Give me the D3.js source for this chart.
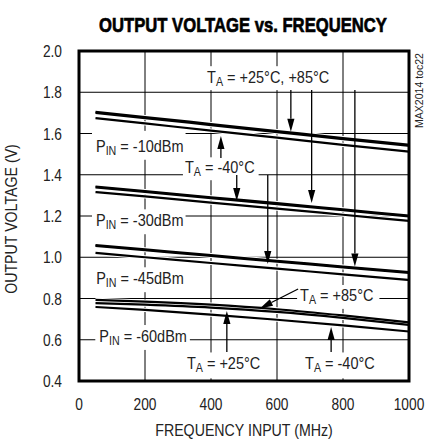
<!DOCTYPE html>
<html><head><meta charset="utf-8">
<script src="https://cdn.jsdelivr.net/npm/d3@7"></script>
<style>
html,body{margin:0;padding:0;background:#fff;}
svg text{font-family:"Liberation Sans",Arial,sans-serif;fill:#222;}
</style></head>
<body>
<svg id="c" width="426" height="444"></svg>
<script>
// ---- data ----
const freqs = [50, 200, 400, 600, 800, 1000]; // MHz
const xTicks = [0, 200, 400, 600, 800, 1000];
const yTicks = [0.4, 0.6, 0.8, 1.0, 1.2, 1.4, 1.6, 1.8, 2.0];
const yTickLabels = ["0.4","0.6","0.8","1.0","1.2","1.4","1.6","1.8","2.0"];

const pin10_p85 = [1.705, 1.680, 1.646, 1.612, 1.578, 1.545];
const pin10_p25 = [1.700, 1.675, 1.641, 1.607, 1.573, 1.540];
const pin10_m40 = [1.675, 1.649, 1.614, 1.580, 1.545, 1.512];
const pin30_p85 = [1.343, 1.321, 1.291, 1.262, 1.232, 1.202];
const pin30_p25 = [1.339, 1.317, 1.287, 1.258, 1.228, 1.198];
const pin30_m40 = [1.316, 1.295, 1.265, 1.236, 1.206, 1.176];
const pin45_p85 = [1.059, 1.038, 1.010, 0.983, 0.955, 0.928];
const pin45_p25 = [1.055, 1.034, 1.006, 0.979, 0.951, 0.924];
const pin45_m40 = [1.021, 1.000, 0.972, 0.945, 0.917, 0.890];
const pin60_p85 = [0.793, 0.785, 0.770, 0.748, 0.718, 0.684];
const pin60_p25 = [0.778, 0.770, 0.756, 0.735, 0.706, 0.672];
const pin60_m40 = [0.759, 0.745, 0.722, 0.697, 0.670, 0.640];

const seriesList = [pin10_p85, pin10_p25, pin10_m40, pin30_p85, pin30_p25, pin30_m40,
                    pin45_p85, pin45_p25, pin45_m40, pin60_p85, pin60_p25, pin60_m40];

// annotation texts: [main, subscript, rest], position in data units (baseline), box padding [t,r,b,l]
const labels = [
  {m:"T", s:"A", r:" = +25°C, +85°C", x:388, y:1.845, pad:[4,4,2,4]},
  {m:"T", s:"A", r:" = -40°C",        x:321, y:1.408, pad:[3,4,2,2]},
  {m:"P", s:"IN", r:" = -10dBm",      x:51.5, y:1.512, pad:[8,2,3,4]},
  {m:"P", s:"IN", r:" = -30dBm",      x:51.5, y:1.151, pad:[4,2,3,4]},
  {m:"P", s:"IN", r:" = -45dBm",      x:52, y:0.870, pad:[4,2,3,4]},
  {m:"P", s:"IN", r:" = -60dBm",      x:61.5, y:0.590, pad:[4,3,3,4]},
  {m:"T", s:"A", r:" = +85°C",        x:670, y:0.789, pad:[3,6,3,3]},
  {m:"T", s:"A", r:" = +25°C",        x:327, y:0.457, pad:[4,4,4,4]},
  {m:"T", s:"A", r:" = -40°C",        x:685, y:0.457, pad:[4,4,4,4]}
];
// arrows: from (x1,y1) to tip (x2,y2), data units
const arrows = [
  {x1:642, y1:1.811, x2:642, y2:1.609},
  {x1:705, y1:1.811, x2:705, y2:1.263},
  {x1:836, y1:1.811, x2:836, y2:0.955},
  {x1:430, y1:1.481, x2:430, y2:1.588},
  {x1:478, y1:1.399, x2:478, y2:1.273},
  {x1:572, y1:1.399, x2:572, y2:0.967},
  {x1:664, y1:0.846, x2:548, y2:0.752},
  {x1:448, y1:0.541, x2:448, y2:0.739},
  {x1:764, y1:0.541, x2:764, y2:0.662}
];

// ---- layout ----
const L = 79, R = 409, T = 51, B = 381;
const SX = 0.86; // horizontal condensing of the narrow typeface
const svg = d3.select("#c");
const x = d3.scaleLinear().domain([0, 1000]).range([L, R]);
const y = d3.scaleLinear().domain([0.4, 2.0]).range([B, T]);

function ntext(parent, px, py, size, anchor, str, rot, sx) {
  const t = parent.append("text")
    .attr("transform", `translate(${px},${py})${rot ? " rotate(" + rot + ")" : ""} scale(${sx || SX},1)`)
    .attr("font-size", size).attr("text-anchor", anchor);
  if (str !== undefined) t.text(str);
  return t;
}

// title
const title = svg.append("text").attr("font-size", 21).attr("font-weight", "bold")
  .attr("text-anchor", "middle").style("fill", "#000")
  .attr("stroke", "#000").attr("stroke-width", 0.7)
  .text("OUTPUT VOLTAGE vs. FREQUENCY");
const tw = title.node().getComputedTextLength();
title.attr("transform", `translate(243,32) scale(${288 / tw},1)`);

// grid
const g = svg.append("g");
g.selectAll("line.vg").data(xTicks.slice(1, -1)).enter().append("line")
  .attr("x1", d => x(d)).attr("x2", d => x(d)).attr("y1", T).attr("y2", B)
  .attr("stroke", "#000").attr("stroke-width", 1);
g.selectAll("line.hg").data(yTicks.slice(1, -1)).enter().append("line")
  .attr("y1", d => y(d)).attr("y2", d => y(d)).attr("x1", L).attr("x2", R)
  .attr("stroke", "#000").attr("stroke-width", 1);

// tick labels
yTicks.forEach((d, i) => ntext(svg, 62, y(d) + 6, 16, "end", yTickLabels[i]));
xTicks.forEach(d => ntext(svg, x(d), 410, 16, "middle", String(d)));

// axis titles
ntext(svg, 244, 436, 16.5, "middle", "FREQUENCY INPUT (MHz)");
ntext(svg, 17, 219, 16.5, "middle", "OUTPUT VOLTAGE (V)", -90);

// side code
const sc = ntext(svg, 423, 128, 11, "start", "MAX2014 toc22", -90, 1);
const scw = sc.node().getComputedTextLength();
sc.attr("transform", `translate(423,128) rotate(-90) scale(${75 / scw},1)`);

// labels with white boxes
const LSX = 0.89;
const lg = svg.append("g");
labels.forEach(lb => {
  const grp = lg.append("g").attr("transform", `translate(${x(lb.x)},${y(lb.y)}) scale(${LSX},1)`);
  const rect = grp.append("rect").attr("fill", "#fff");
  const t = grp.append("text").attr("font-size", 16.3);
  t.append("tspan").text(lb.m);
  t.append("tspan").attr("font-size", 12).attr("dy", 3).text(lb.s);
  t.append("tspan").attr("dy", -3).text(lb.r);
  const bb = t.node().getBBox();
  const [pt, pr, pb, pl] = lb.pad;
  rect.attr("x", bb.x - pl / LSX).attr("y", bb.y - pt + 2)
      .attr("width", bb.width + (pl + pr) / LSX).attr("height", bb.height + pt + pb - 2);
});

// curves
const line = d3.line().x((d, i) => x(freqs[i])).y(d => y(d)).curve(d3.curveMonotoneX);
const cg = svg.append("g");
cg.selectAll("path.case").data(seriesList).enter().append("path")
  .attr("d", line).attr("fill", "none").attr("stroke", "#fff").attr("stroke-width", 4.2);
cg.selectAll("path.crv").data(seriesList).enter().append("path")
  .attr("d", line).attr("fill", "none").attr("stroke", "#000").attr("stroke-width", 2.2);

// arrows
const ag = svg.append("g");
arrows.forEach(a => {
  const x1 = x(a.x1), y1 = y(a.y1), x2 = x(a.x2), y2 = y(a.y2);
  const dx = x2 - x1, dy = y2 - y1, len = Math.hypot(dx, dy);
  const ux = dx / len, uy = dy / len;
  const hl = 13, hw = 3.6;
  const bx = x2 - ux * hl, by = y2 - uy * hl;
  ag.append("line").attr("x1", x1).attr("y1", y1).attr("x2", bx).attr("y2", by)
    .attr("stroke", "#000").attr("stroke-width", 1.3);
  ag.append("path").attr("d", `M${x2},${y2}L${bx - uy * hw},${by + ux * hw}L${bx + uy * hw},${by - ux * hw}Z`)
    .attr("fill", "#000");
});

// frame
svg.append("rect").attr("x", L).attr("y", T).attr("width", R - L).attr("height", B - T)
  .attr("fill", "none").attr("stroke", "#000").attr("stroke-width", 3);
</script>
</body></html>
